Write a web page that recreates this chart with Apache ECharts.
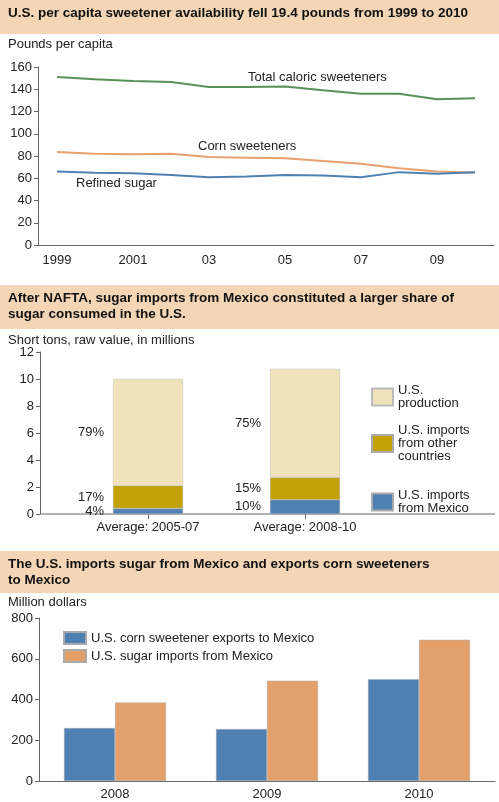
<!DOCTYPE html>
<html>
<head>
<meta charset="utf-8">
<title>Sweeteners</title>
<style>
  html, body { margin: 0; padding: 0; background: #fff; }
  #main { width: 499px; height: 802px; }
</style>
</head>
<body>
<div id="main"></div>
<script src="https://cdn.jsdelivr.net/npm/echarts@6/dist/echarts.min.js"></script>
<script>
// panel 1: per capita availability
var years = ['1999','2000','2001','2002','2003','2004','2005','2006','2007','2008','2009','2010'];
var yearLabels = ['1999','','2001','','03','','05','','07','','09',''];
var totalCaloric = [151, 149, 147.5, 146.5, 142, 142, 142.5, 139, 136, 136, 131, 132];
var cornSweet = [83.5, 82, 81.5, 82, 79, 78.5, 78, 75.5, 73, 69, 66, 65];
var refinedSugar = [66, 65, 64.5, 63, 61, 61.5, 63, 62.5, 61, 65.5, 64, 65.5];

// panel 2: sugar consumed, million short tons
var periods = ['Average: 2005-07', 'Average: 2008-10', ''];
var fromMexico = [0.4, 1.05, null];
var fromOther = [1.7, 1.65, null];
var usProduction = [7.9, 8.05, null];
var pctMexico = ['4%', '10%'];
var pctOther = ['17%', '15%'];
var pctProd = ['79%', '75%'];

// panel 3: trade, million dollars
var tradeYears = ['2008', '2009', '2010'];
var cornExports = [260, 255, 500];
var sugarImports = [385, 492, 693];

var FONT = 'Liberation Sans, Arial, sans-serif';
var FS = 13;
var txt = '#222';
var axisCol = '#666';

var chart = echarts.init(document.getElementById('main'));

function header(y, h, lines) {
  return [{
    type: 'rect', shape: { x: 0, y: y, width: 499, height: h },
    style: { fill: '#f4d6b7' }
  }, {
    type: 'text', left: 8, top: y + 5,
    style: { text: lines, font: 'bold 13.5px ' + FONT, fill: '#111', lineHeight: 16 }
  }];
}
function label(x, y, t) {
  return { type: 'text', left: x, top: y, style: { text: t, font: FS + 'px ' + FONT, fill: txt } };
}

var axisLine = { lineStyle: { color: axisCol, width: 1 } };
var axisLbl = { color: txt, fontSize: FS, fontFamily: FONT };

function stackData(vals, labels) {
  return vals.map(function (v, i) {
    if (!labels[i]) return v;
    return { value: v, label: { show: true, position: 'left', distance: 9, formatter: labels[i],
      color: txt, fontSize: FS, fontFamily: FONT } };
  });
}

var graphics = []
  .concat(header(0, 34, 'U.S. per capita sweetener availability fell 19.4 pounds from 1999 to 2010'))
  .concat(header(285, 44, 'After NAFTA, sugar imports from Mexico constituted a larger share of\nsugar consumed in the U.S.'))
  .concat(header(551, 42, 'The U.S. imports sugar from Mexico and exports corn sweeteners\nto Mexico'))
  .concat([
    label(8, 38, 'Pounds per capita'),
    label(248, 71, 'Total caloric sweeteners'),
    label(198, 140, 'Corn sweeteners'),
    label(76, 177, 'Refined sugar'),
    label(8, 334, 'Short tons, raw value, in millions'),
    label(8, 596, 'Million dollars'),
    { type: 'line', shape: { x1: 40, y1: 514, x2: 495, y2: 514 }, style: { stroke: axisCol, lineWidth: 1 } }
  ]);

var legText = { color: txt, fontSize: FS, lineHeight: 13 };
var option = {
  animation: false,
  textStyle: { fontFamily: FONT },
  graphic: graphics,
  legend: [{
    data: ['U.S.\nproduction'], orient: 'vertical', left: 366, top: 379, icon: 'rect',
    itemWidth: 21, itemHeight: 17, textStyle: legText
  }, {
    data: ['U.S. imports\nfrom other\ncountries'], orient: 'vertical', left: 366, top: 419, icon: 'rect',
    itemWidth: 21, itemHeight: 17, textStyle: legText
  }, {
    data: ['U.S. imports\nfrom Mexico'], orient: 'vertical', left: 366, top: 484, icon: 'rect',
    itemWidth: 21, itemHeight: 17, textStyle: legText
  }, {
    data: ['U.S. corn sweetener exports to Mexico', 'U.S. sugar imports from Mexico'],
    orient: 'vertical', left: 58, top: 626, itemGap: 4, icon: 'rect',
    itemWidth: 22, itemHeight: 12, textStyle: { color: txt, fontSize: FS }
  }],
  grid: [
    { left: 38, right: 5, top: 67, height: 178 },
    { left: 148, right: 37, top: 352, height: 162 },
    { left: 39, right: 4, top: 618, height: 163 }
  ],
  xAxis: [{
    gridIndex: 0, type: 'category', data: years, boundaryGap: true,
    axisLine: axisLine, axisTick: { alignWithLabel: true, length: 5, lineStyle: { color: axisCol } },
    axisLabel: Object.assign({ interval: 0, margin: 9, formatter: function (v, i) { return yearLabels[i]; } }, axisLbl)
  }, {
    gridIndex: 1, type: 'category', data: periods, boundaryGap: false,
    axisLine: { show: false },
    axisTick: { length: 5, lineStyle: { color: axisCol }, interval: function (i) { return i < 2; } },
    axisLabel: Object.assign({ interval: 0, margin: 7 }, axisLbl)
  }, {
    gridIndex: 2, type: 'category', data: tradeYears,
    axisLine: axisLine, axisTick: { alignWithLabel: true, length: 5, lineStyle: { color: axisCol } },
    axisLabel: Object.assign({ margin: 7 }, axisLbl)
  }],
  yAxis: [{
    gridIndex: 0, type: 'value', min: 0, max: 160, interval: 20,
    axisLine: Object.assign({ show: true }, axisLine), axisTick: { show: true, length: 4, lineStyle: { color: axisCol } },
    splitLine: { show: false }, axisLabel: Object.assign({ margin: 6 }, axisLbl)
  }, {
    gridIndex: 1, type: 'value', min: 0, max: 12, interval: 2, offset: 108,
    axisLine: Object.assign({ show: true }, axisLine), axisTick: { show: true, length: 4, lineStyle: { color: axisCol } },
    splitLine: { show: false }, axisLabel: Object.assign({ margin: 6 }, axisLbl)
  }, {
    gridIndex: 2, type: 'value', min: 0, max: 800, interval: 200,
    axisLine: Object.assign({ show: true }, axisLine), axisTick: { show: true, length: 4, lineStyle: { color: axisCol } },
    splitLine: { show: false }, axisLabel: Object.assign({ margin: 6 }, axisLbl)
  }],
  series: [
    { type: 'line', xAxisIndex: 0, yAxisIndex: 0, data: totalCaloric, symbol: 'none', lineStyle: { color: '#5a9158', width: 2 } },
    { type: 'line', xAxisIndex: 0, yAxisIndex: 0, data: cornSweet, symbol: 'none', lineStyle: { color: '#e9a06e', width: 2 } },
    { type: 'line', xAxisIndex: 0, yAxisIndex: 0, data: refinedSugar, symbol: 'none', lineStyle: { color: '#4f80b4', width: 2 } },

    { name: 'U.S. imports\nfrom Mexico', type: 'bar', xAxisIndex: 1, yAxisIndex: 1, stack: 's', barWidth: 70,
      data: stackData(fromMexico, pctMexico), itemStyle: { color: '#4f80b4', borderColor: '#aaa', borderWidth: 0.5 } },
    { name: 'U.S. imports\nfrom other\ncountries', type: 'bar', xAxisIndex: 1, yAxisIndex: 1, stack: 's', barWidth: 70,
      data: stackData(fromOther, pctOther), itemStyle: { color: '#c4a204', borderColor: '#aaa', borderWidth: 0.5 } },
    { name: 'U.S.\nproduction', type: 'bar', xAxisIndex: 1, yAxisIndex: 1, stack: 's', barWidth: 70,
      data: stackData(usProduction, pctProd), itemStyle: { color: '#f0e3bb', borderColor: '#bbb', borderWidth: 0.5 } },

    { name: 'U.S. corn sweetener exports to Mexico', type: 'bar', xAxisIndex: 2, yAxisIndex: 2, barWidth: 51, barGap: '0%',
      data: cornExports, itemStyle: { color: '#4f80b2', borderColor: '#aaa', borderWidth: 0.5 } },
    { name: 'U.S. sugar imports from Mexico', type: 'bar', xAxisIndex: 2, yAxisIndex: 2, barWidth: 51, barGap: '0%',
      data: sugarImports, itemStyle: { color: '#e3a06b', borderColor: '#aaa', borderWidth: 0.5 } }
  ]
};
chart.setOption(option);
</script>
</body>
</html>
